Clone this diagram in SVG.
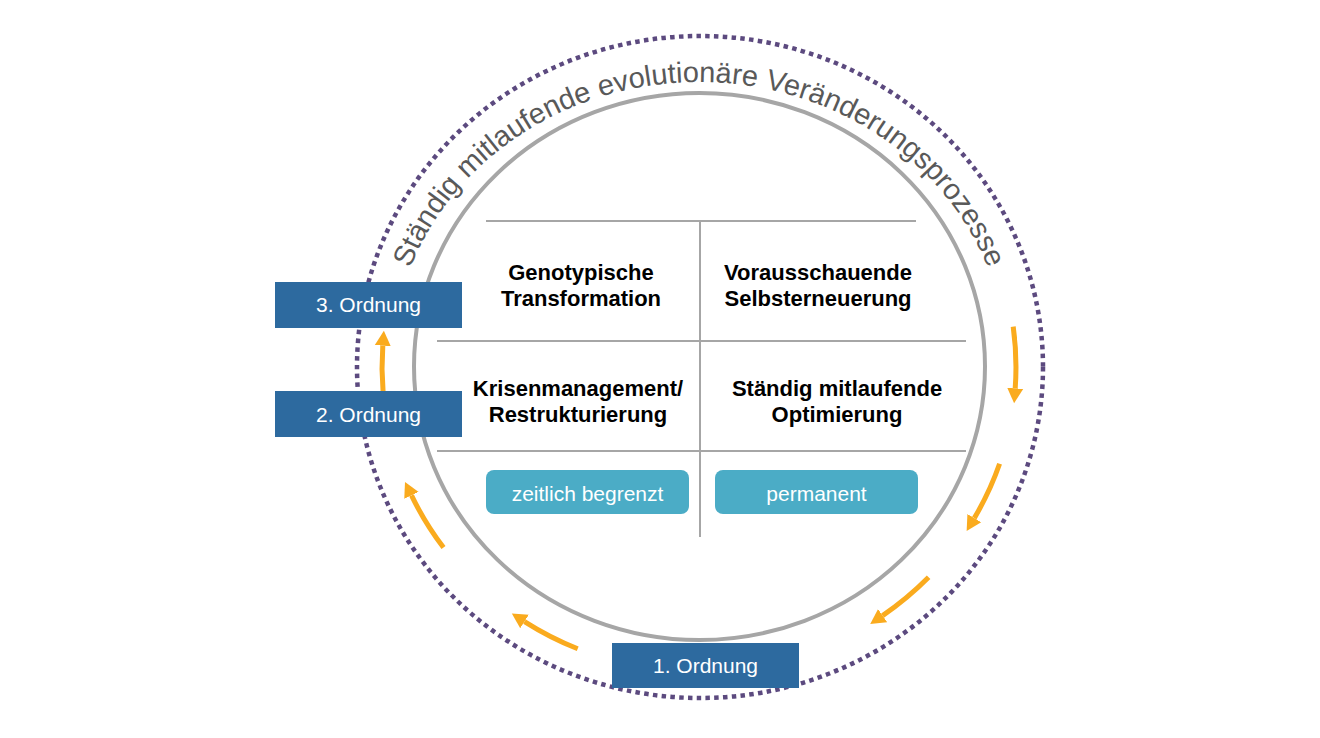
<svg xmlns="http://www.w3.org/2000/svg" width="1320" height="738" viewBox="0 0 1320 738">
<style>
  .arc-title { font-family: "Liberation Sans", Arial, sans-serif; font-size: 29px; fill: #595959; }
  .cell { font-family: "Liberation Sans", Arial, sans-serif; font-size: 22px; font-weight: bold; fill: #000000; text-anchor: middle; }
  .lbl { font-family: "Liberation Sans", Arial, sans-serif; font-size: 21px; fill: #ffffff; text-anchor: middle; }
  .order { fill: #2D6A9F; }
  .tag { fill: #4BACC6; }
  .div { stroke: #A6A6A6; stroke-width: 2; fill: none; }
  .flow { stroke: #FAAB1E; stroke-width: 5; fill: none; marker-end: url(#ah); }
</style>
<defs>
  <marker id="ah" markerUnits="userSpaceOnUse" markerWidth="16" markerHeight="18" viewBox="0 -9 16 18" refX="0" refY="0" orient="auto">
    <path d="M0,-8 L15,0 L0,8 Z" fill="#FAAB1E"/>
  </marker>
  <path id="titlePath" d="M391,367 A308,285 0 0 1 1007,367"/>
</defs>
<rect width="1320" height="738" fill="#ffffff"/>

<g id="outer-ring">
  <ellipse cx="700" cy="367" rx="343" ry="331" fill="none" stroke="#5C4A7F" stroke-width="4.5" stroke-dasharray="4.5 4.3"/>
</g>
<g id="inner-circle">
  <ellipse cx="699.5" cy="366.5" rx="285.5" ry="273.5" fill="none" stroke="#A6A6A6" stroke-width="4"/>
</g>
<g id="title">
  <text class="arc-title"><textPath href="#titlePath" startOffset="50%" text-anchor="middle">Ständig mitlaufende evolutionäre Veränderungsprozesse</textPath></text>
</g>

<g id="grid">
  <line class="div" x1="486" y1="221" x2="916" y2="221"/>
  <line class="div" x1="437" y1="341" x2="966" y2="341"/>
  <line class="div" x1="437" y1="451" x2="966" y2="451"/>
  <line class="div" x1="700" y1="221" x2="700" y2="537"/>
</g>

<g id="cell-genotypische">
  <text class="cell" x="581" y="280">Genotypische</text>
  <text class="cell" x="581" y="306">Transformation</text>
</g>
<g id="cell-vorausschauende">
  <text class="cell" x="818" y="280">Vorausschauende</text>
  <text class="cell" x="818" y="306">Selbsterneuerung</text>
</g>
<g id="cell-krisenmanagement">
  <text class="cell" x="578" y="396">Krisenmanagement/</text>
  <text class="cell" x="578" y="422">Restrukturierung</text>
</g>
<g id="cell-optimierung">
  <text class="cell" x="837" y="396">Ständig mitlaufende</text>
  <text class="cell" x="837" y="422">Optimierung</text>
</g>

<g id="tag-zeitlich">
  <rect class="tag" x="486" y="470" width="203" height="44" rx="8"/>
  <text class="lbl" x="587.5" y="501">zeitlich begrenzt</text>
</g>
<g id="tag-permanent">
  <rect class="tag" x="715" y="470" width="203" height="44" rx="8"/>
  <text class="lbl" x="816.5" y="501">permanent</text>
</g>

<g id="connectors">
  <path class="flow" d="M1013.2,326.7 A317,305 0 0 1 1015.2,388.3"/>
  <path class="flow" d="M999.6,463.8 A317,305 0 0 1 974.3,518.1"/>
  <path class="flow" d="M928.6,577.3 A317,305 0 0 1 882.6,615.6"/>
  <path class="flow" d="M577.7,648.8 A317,305 0 0 1 524.5,621.6"/>
  <path class="flow" d="M443.5,547.6 A317,305 0 0 1 411.5,495.4"/>
  <path class="flow" d="M383.1,392 A317,305 0 0 1 382.8,345.7"/>
</g>

<g id="order-3">
  <rect class="order" x="275" y="282" width="187" height="46"/>
  <text class="lbl" x="368.5" y="312">3. Ordnung</text>
</g>
<g id="order-2">
  <rect class="order" x="275" y="391" width="187" height="46"/>
  <text class="lbl" x="368.5" y="422">2. Ordnung</text>
</g>
<g id="order-1">
  <rect class="order" x="612" y="643" width="187" height="45"/>
  <text class="lbl" x="705.5" y="673">1. Ordnung</text>
</g>
</svg>
